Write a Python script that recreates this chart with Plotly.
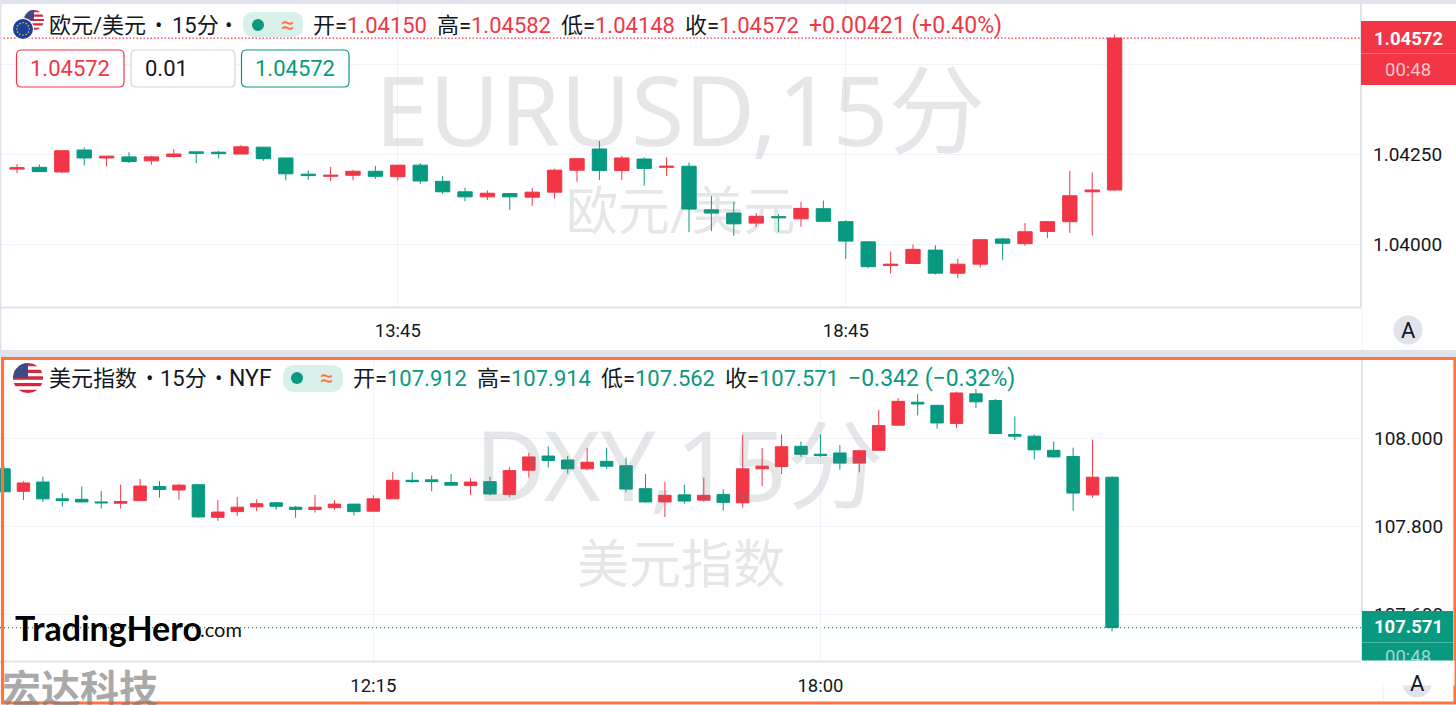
import math
import plotly.graph_objects as go

W, H = 1456, 705
RED = "#f23645"
GREEN = "#089981"
INK = "#131722"
GRID = "#f0f3fa"
EDGE = "#e0e3eb"
ORANGE = "#ff7340"
FONT = "Roboto, 'Noto Sans CJK SC', sans-serif"
WM_FONT = "'Noto Sans', 'Noto Sans CJK SC', sans-serif"

dxy_times = [
    "07:30", "07:45", "08:00", "08:15", "08:30", "08:45", "09:00", "09:15", "09:30", "09:45",
    "10:00", "10:15", "10:30", "10:45", "11:00", "11:15", "11:30", "11:45", "12:00", "12:15",
    "12:30", "12:45", "13:00", "13:15", "13:30", "13:45", "14:00", "14:15", "14:30", "14:45",
    "15:00", "15:15", "15:30", "15:45", "16:00", "16:15", "16:30", "16:45", "17:00", "17:15",
    "17:30", "17:45", "18:00", "18:15", "18:30", "18:45", "19:00", "19:15", "19:30", "19:45",
    "20:00", "20:15", "20:30", "20:45", "21:00", "21:15", "21:30", "21:45",
]
eur_times = dxy_times[8:]
eur_ticks = ["13:45", "18:45"]
dxy_ticks = ["12:15", "18:00"]
eur_levels = [1.045, 1.0425, 1.04]
eur_level_text = ["", "1.04250", "1.04000"]
dxy_levels = [108.0, 107.8, 107.6]
dxy_level_text = ["108.000", "107.800", "107.600"]

eur_open = [1.04208, 1.04213, 1.04200, 1.04261, 1.04239, 1.04242, 1.04231, 1.04243, 1.04256, 1.04255,
            1.04250, 1.04269, 1.04239, 1.04194, 1.04188, 1.04191, 1.04202, 1.04187, 1.04219, 1.04174,
            1.04145, 1.04131, 1.04140, 1.04130, 1.04144, 1.04205, 1.04264, 1.04204, 1.04236, 1.04213,
            1.04216, 1.04095, 1.04086, 1.04058, 1.04076, 1.04070, 1.04098, 1.04062, 1.04006, 1.03940,
            1.03946, 1.03983, 1.03919, 1.03944, 1.04014, 1.04001, 1.04035, 1.04062, 1.04145, 1.04150]
eur_high = [1.04222, 1.04221, 1.04260, 1.04268, 1.04245, 1.04255, 1.04245, 1.04263, 1.04256, 1.04259,
            1.04275, 1.04269, 1.04239, 1.04204, 1.04214, 1.04206, 1.04217, 1.04219, 1.04225, 1.04189,
            1.04156, 1.04149, 1.04141, 1.04156, 1.04209, 1.04239, 1.04286, 1.04245, 1.04241, 1.04241,
            1.04226, 1.04133, 1.04117, 1.04086, 1.04083, 1.04117, 1.04121, 1.04066, 1.04008, 1.03979,
            1.03999, 1.03996, 1.03959, 1.04013, 1.04017, 1.04058, 1.04063, 1.04203, 1.04199, 1.04582]
eur_low = [1.04197, 1.04200, 1.04197, 1.04218, 1.04216, 1.04225, 1.04220, 1.04240, 1.04225, 1.04237,
           1.04250, 1.04231, 1.04177, 1.04178, 1.04175, 1.04177, 1.04181, 1.04176, 1.04167, 1.04139,
           1.04119, 1.04122, 1.04094, 1.04106, 1.04126, 1.04173, 1.04178, 1.04178, 1.04162, 1.04189,
           1.04033, 1.04036, 1.04023, 1.04048, 1.04033, 1.04048, 1.04061, 1.03959, 1.03933, 1.03918,
           1.03946, 1.03915, 1.03905, 1.03935, 1.03956, 1.03995, 1.04016, 1.04031, 1.04024, 1.04148]
eur_close = [1.04212, 1.04201, 1.04259, 1.04239, 1.04244, 1.04229, 1.04242, 1.04250, 1.04252, 1.04251,
             1.04270, 1.04237, 1.04195, 1.04190, 1.04191, 1.04202, 1.04188, 1.04219, 1.04175, 1.04145,
             1.04131, 1.04141, 1.04131, 1.04144, 1.04205, 1.04237, 1.04204, 1.04239, 1.04210, 1.04216,
             1.04097, 1.04086, 1.04056, 1.04077, 1.04073, 1.04099, 1.04063, 1.04008, 1.03937, 1.03944,
             1.03985, 1.03919, 1.03944, 1.04012, 1.04002, 1.04034, 1.04062, 1.04134, 1.04150, 1.04572]

dxy_open = [107.931, 107.880, 107.901, 107.863, 107.862, 107.856, 107.853, 107.859, 107.891, 107.883,
            107.895, 107.821, 107.834, 107.845, 107.854, 107.844, 107.839, 107.843, 107.851, 107.835,
            107.863, 107.905, 107.906, 107.900, 107.893, 107.902, 107.873, 107.928, 107.960, 107.951,
            107.931, 107.948, 107.938, 107.886, 107.856, 107.872, 107.860, 107.873, 107.854, 107.931,
            107.936, 107.982, 107.964, 107.967, 107.944, 107.973, 108.030, 108.082, 108.075, 108.034,
            108.101, 108.086, 108.009, 108.005, 107.973, 107.959, 107.872, 107.912]
dxy_high = [107.937, 107.903, 107.913, 107.876, 107.891, 107.881, 107.895, 107.908, 107.903, 107.897,
            107.897, 107.860, 107.867, 107.862, 107.856, 107.847, 107.872, 107.860, 107.851, 107.871,
            107.924, 107.923, 107.916, 107.919, 107.910, 107.913, 107.935, 107.967, 107.982, 107.960,
            107.978, 107.979, 107.956, 107.919, 107.901, 107.895, 107.911, 107.885, 108.008, 107.978,
            108.009, 107.993, 108.009, 107.985, 107.975, 108.064, 108.091, 108.100, 108.076, 108.106,
            108.112, 108.089, 108.050, 108.009, 107.993, 107.979, 107.997, 107.914]
dxy_low = [107.879, 107.860, 107.856, 107.845, 107.855, 107.841, 107.841, 107.858, 107.866, 107.861,
           107.820, 107.813, 107.825, 107.835, 107.838, 107.820, 107.832, 107.838, 107.825, 107.834,
           107.863, 107.899, 107.880, 107.892, 107.872, 107.871, 107.867, 107.911, 107.934, 107.920,
           107.928, 107.931, 107.878, 107.854, 107.822, 107.852, 107.856, 107.836, 107.843, 107.892,
           107.919, 107.958, 107.958, 107.929, 107.923, 107.973, 108.030, 108.052, 108.022, 108.024,
           108.069, 108.011, 107.996, 107.952, 107.956, 107.836, 107.865, 107.562]
dxy_close = [107.879, 107.899, 107.863, 107.859, 107.856, 107.854, 107.857, 107.892, 107.884, 107.894,
             107.822, 107.833, 107.844, 107.852, 107.846, 107.839, 107.844, 107.851, 107.834, 107.863,
             107.905, 107.902, 107.902, 107.894, 107.901, 107.874, 107.927, 107.958, 107.950, 107.931,
             107.946, 107.937, 107.885, 107.856, 107.871, 107.858, 107.871, 107.855, 107.931, 107.937,
             107.981, 107.964, 107.961, 107.944, 107.972, 108.029, 108.084, 108.078, 108.035, 108.103,
             108.083, 108.011, 108.005, 107.974, 107.958, 107.876, 107.912, 107.571]


def X(px):
    return px / W


def Y(py):
    return 1 - py / H


def pt(px, py):
    return f"{X(px):.6f},{Y(py):.6f}"


shapes, annotations = [], []


def label(x, y, text, size=22, color=INK, anchor="left", family=FONT):
    annotations.append(dict(x=X(x), y=Y(y), xref="paper", yref="paper", text=text, showarrow=False,
                            xanchor=anchor, yanchor="middle", align=anchor,
                            font=dict(size=size, color=color, family=family),
                            borderpad=0, borderwidth=0))


def rect(x0, y0, x1, y1, fill, line=None, width=0):
    shapes.append(dict(type="rect", xref="paper", yref="paper", x0=X(x0), x1=X(x1), y0=Y(y0), y1=Y(y1),
                       fillcolor=fill, line=dict(color=line or fill, width=width), layer="above"))


def seg(x0, y0, x1, y1, color, width=1):
    shapes.append(dict(type="line", xref="paper", yref="paper", x0=X(x0), x1=X(x1), y0=Y(y0), y1=Y(y1),
                       line=dict(color=color, width=width), layer="above"))


def rounded(x0, y0, x1, y1, r, fill, line=None, width=0):
    p = (f"M {pt(x0 + r, y0)} L {pt(x1 - r, y0)} Q {pt(x1, y0)} {pt(x1, y0 + r)} "
         f"L {pt(x1, y1 - r)} Q {pt(x1, y1)} {pt(x1 - r, y1)} L {pt(x0 + r, y1)} "
         f"Q {pt(x0, y1)} {pt(x0, y1 - r)} L {pt(x0, y0 + r)} Q {pt(x0, y0)} {pt(x0 + r, y0)} Z")
    shapes.append(dict(type="path", xref="paper", yref="paper", path=p, fillcolor=fill,
                       line=dict(color=line or fill, width=width), layer="above"))


def disc(cx, cy, r, fill, line=None, width=0):
    shapes.append(dict(type="circle", xref="paper", yref="paper", x0=X(cx - r), x1=X(cx + r),
                       y0=Y(cy + r), y1=Y(cy - r), fillcolor=fill,
                       line=dict(color=line or fill, width=width), layer="above"))


def poly(points, fill):
    p = "M " + " L ".join(pt(a, b) for a, b in points) + " Z"
    shapes.append(dict(type="path", xref="paper", yref="paper", path=p, fillcolor=fill,
                       line=dict(color=fill, width=0), layer="above"))


def us_flag(cx, cy, r):
    disc(cx, cy, r, "#ffffff")
    n = 9
    for i in range(0, n, 2):
        t0 = -r + 2 * r * i / n
        t1 = -r + 2 * r * (i + 1) / n
        left, right = [], []
        for k in range(5):
            t = t0 + (t1 - t0) * k / 4
            w = math.sqrt(max(r * r - t * t, 0))
            left.append((cx - w, cy + t))
            right.append((cx + w, cy + t))
        poly(left + right[::-1], "#cf2a3f")
    arc = [(cx - r * math.cos(a * math.pi / 24), cy - r * math.sin(a * math.pi / 24)) for a in range(13)]
    poly([(cx, cy)] + arc, "#3c4a86")


def eu_flag(cx, cy, r):
    disc(cx, cy, r + 1, "#ffffff")
    disc(cx, cy, r, "#1b3f9c")
    for k in range(12):
        a = k * math.pi / 6
        disc(cx + 0.62 * r * math.cos(a), cy + 0.62 * r * math.sin(a), 0.8, "#f5c518")


def header(y, parts):
    for x, text, color in parts:
        label(x, y, text, 22, color)


# frame
rect(0, 0, W, 4, EDGE)
rect(0, 0, 1.5, 350, EDGE)
rect(0, 350, W, 357, EDGE)
seg(0, 307.5, 1361, 307.5, EDGE, 2)
seg(1361, 0, 1361, 307, EDGE, 2)
seg(0, 661.5, 1362, 661.5, EDGE, 2)
seg(1362, 358, 1362, 661, EDGE, 2)
seg(1362, 308, 1362, 350, GRID, 1)
seg(1383.5, 662, 1383.5, 702, GRID, 1)

# watermarks
WM = "rgba(118,122,134,0.19)"
label(680, 108, "EURUSD,15分", 97, WM, "center", WM_FONT)
label(680, 212, "欧元/美元", 52, WM, "center")
label(679, 463, "DXY,15分", 97, WM, "center", WM_FONT)
label(681, 565, "美元指数", 52, WM, "center")

# top legend
us_flag(34, 20, 10)
eu_flag(23, 29, 10)
header(25, [(49, "欧元/美元", INK), (155, "•", INK), (172, "15分", INK), (225, "•", INK)])
rounded(243, 12, 303, 37, 11, "#d9f0ea")
disc(258, 25, 6, GREEN)
label(288, 25, "≈", 24, ORANGE, "center")
header(25, [(313, "开=", INK), (347, "1.04150", RED), (437, "高=", INK), (471, "1.04582", RED),
            (561, "低=", INK), (595, "1.04148", RED), (685, "收=", INK), (719, "1.04572", RED)])
label(809, 25, "+0.00421 (+0.40%)", 23, RED)

# order boxes
rounded(16.5, 50, 124, 87, 5, "#ffffff", RED, 1.2)
label(70, 68.5, "1.04572", 22, RED, "center")
rounded(131, 50, 235, 87, 5, "#ffffff", "#d1d4dc", 1.2)
label(145, 68, "0.01", 22, INK)
rounded(241.5, 50, 349, 87, 5, "#ffffff", GREEN, 1.2)
label(295, 68.5, "1.04572", 22, GREEN, "center")

# bottom legend
us_flag(28, 378, 15)
header(378, [(49, "美元指数", INK), (146, "•", INK), (160, "15分", INK), (215, "•", INK)])
label(229, 378, "NYF", 23, INK)
rounded(283, 365, 343, 392, 12, "#d9f0ea")
disc(297, 378, 6, GREEN)
label(327, 378, "≈", 24, ORANGE, "center")
header(378, [(353, "开=", INK), (387, "107.912", GREEN), (477, "高=", INK), (511, "107.914", GREEN),
             (601, "低=", INK), (635, "107.562", GREEN), (725, "收=", INK), (759, "107.571", GREEN)])
label(848, 378, "−0.342 (−0.32%)", 23, GREEN)

# price tags
rect(1361, 21, 1456, 85, RED)
seg(1361, 53.5, 1456, 53.5, "#f76b77", 1)
label(1408, 38.5, "<b>1.04572</b>", 18.5, "#ffffff", "center")
label(1408, 70, "00:48", 18.5, "rgba(255,255,255,0.72)", "center")
rect(1362, 611, 1453, 661, GREEN)
seg(1362, 642.5, 1453, 642.5, "#4fb7a3", 1)
label(1408, 627, "<b>107.571</b>", 18.5, "#ffffff", "center")
label(1408, 657, "00:48", 18.5, "rgba(255,255,255,0.62)", "center")
annotations.append(dict(x=X(1407.5), y=Y(673), xref="paper", yref="paper", text=" ", showarrow=False,
                        width=91, height=22, bgcolor="#ffffff", xanchor="center", yanchor="middle",
                        font=dict(size=10)))

# A buttons
disc(1408, 330, 14.5, EDGE)
label(1408, 330, "A", 22, INK, "center")
disc(1417, 683, 14.5, EDGE)
label(1417, 683, "A", 22, INK, "center")

# logos
label(15, 627, "<b>TradingHero</b>", 34, "#000000", family="Lato, Inter, sans-serif")
label(200, 629, ".com", 20, "#111111", family="Lato, Inter, sans-serif")
label(2, 685.5, "<b>宏达科技</b>", 39, "rgba(125,125,125,0.68)", family="'Noto Sans CJK SC'")

# border of the active pane
shapes.append(dict(type="rect", xref="paper", yref="paper", x0=X(2.5), x1=X(1455), y0=Y(703), y1=Y(358.5),
                   line=dict(color=ORANGE, width=3.2), fillcolor="rgba(0,0,0,0)", layer="above"))

# last price lines
shapes.append(dict(type="line", xref="x", yref="y", x0=-0.76, x1=60.0, y0=eur_close[-1], y1=eur_close[-1],
                   line=dict(color=RED, width=1.3, dash="1.5px,2px"), layer="below"))
shapes.append(dict(type="line", xref="x2", yref="y2", x0=-0.206, x1=69.86, y0=dxy_close[-1], y1=dxy_close[-1],
                   line=dict(color=GREEN, width=1.2, dash="1px,3px"), layer="below"))

fig = go.Figure()
fig.add_trace(go.Candlestick(x=eur_times, open=eur_open, high=eur_high, low=eur_low, close=eur_close,
                             xaxis="x", yaxis="y", whiskerwidth=0,
                             increasing=dict(line=dict(color=RED, width=1), fillcolor=RED),
                             decreasing=dict(line=dict(color=GREEN, width=1), fillcolor=GREEN)))
fig.add_trace(go.Candlestick(x=dxy_times, open=dxy_open, high=dxy_high, low=dxy_low, close=dxy_close,
                             xaxis="x2", yaxis="y2", whiskerwidth=0,
                             increasing=dict(line=dict(color=RED, width=1), fillcolor=RED),
                             decreasing=dict(line=dict(color=GREEN, width=1), fillcolor=GREEN)))

xcommon = dict(type="category", showgrid=True, gridcolor=GRID, gridwidth=1, zeroline=False, showline=False,
               ticks="", tickfont=dict(size=18.5, color=INK, family=FONT),
               rangeslider=dict(visible=False), fixedrange=True)
ycommon = dict(side="right", showgrid=True, gridcolor=GRID, gridwidth=1, zeroline=False, showline=False,
               ticks="", tickfont=dict(size=19, color=INK, family=FONT), ticklabelstandoff=11, fixedrange=True)

fig.update_layout(
    width=W, height=H, autosize=False, margin=dict(l=0, r=0, t=0, b=0),
    paper_bgcolor="#ffffff", plot_bgcolor="rgba(0,0,0,0)", showlegend=False, hovermode=False,
    boxgap=0.3, boxgroupgap=0.086,
    xaxis=dict(domain=[0, X(1361)], range=[-0.76, 60.0], anchor="y", ticklabelstandoff=10,
               categoryorder="array", categoryarray=eur_times, tickmode="array",
               tickvals=eur_ticks, ticktext=eur_ticks, **xcommon),
    yaxis=dict(domain=[Y(307), 1], range=[1.03825, 1.046778], anchor="x", tickmode="array",
               tickvals=eur_levels, ticktext=eur_level_text, **ycommon),
    xaxis2=dict(domain=[0, X(1362)], range=[-0.206, 69.86], anchor="y2", ticklabelstandoff=11,
                categoryorder="array", categoryarray=dxy_times, tickmode="array",
                tickvals=dxy_ticks, ticktext=dxy_ticks, **xcommon),
    yaxis2=dict(domain=[Y(661), Y(358)], range=[107.4953, 108.1823], anchor="x2", tickmode="array",
                tickvals=dxy_levels, ticktext=dxy_level_text, **ycommon),
    shapes=shapes, annotations=annotations, font=dict(family=FONT, color=INK),
)

fig.write_html("out.html", config={"displayModeBar": False},
               post_script="document.body.style.margin='0';document.body.style.overflow='hidden';")
